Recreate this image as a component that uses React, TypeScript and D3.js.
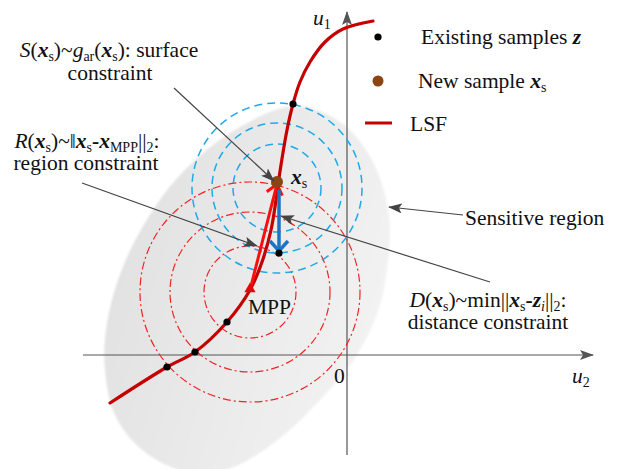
import React from 'react';
import * as d3 from 'd3';

// limit state function, in (u2, u1) units
const lsfU2 = [-4.74, -3.6, -3.04, -2.4, -1.94, -1.7, -1.52, -1.42, -1.36, -1.2, -1.08, -0.94, -0.74, -0.44, -0.08, 0.52];
const lsfU1 = [-0.96, -0.24, 0.06, 0.66, 1.3, 1.86, 2.5, 3.1, 3.54, 4.5, 5.02, 5.46, 5.86, 6.26, 6.52, 6.68];

// existing samples z
const zU2 = [-1.08, -2.4, -3.04, -3.6, -1.36];
const zU1 = [5.02, 0.66, 0.06, -0.24, 2.04];

// outline of the sensitive region
const regionU2 = [-1.04, -0.14, 0.5, 0.84, 0.82, 0.66, 0.2, -0.54, -1.44, -2.44, -3.34, -4.14, -4.64, -4.84, -4.82, -4.58, -4.1, -3.34, -2.24];
const regionU1 = [4.98, 4.66, 3.9, 2.8, 1.9, 1.0, 0, -0.9, -1.74, -2.3, -2.3, -1.86, -1.2, -0.3, 0.5, 1.5, 2.54, 3.6, 4.5];

const xsPoint = [-1.4, 3.46];
const mppPoint = [-1.94, 1.3];
const surfaceCenter = [-1.4, 3.34];
const surfaceRadii = [0.88, 1.3, 1.7];
const regionRadii = [0.92, 1.6, 2.2];
const u2Range = [-5.28, 4.92];
const u1Range = [-2, 6.86];
const tickLabels = ['0'];

const W = 619;
const H = 469;
const FONT = '"Liberation Serif", "Times New Roman", serif';
const FS = 21.5;

type Seg = { t: string; i?: boolean; b?: boolean; sub?: boolean };

const Rich = ({ x, y, anchor = 'start', segs }: { x: number; y: number; anchor?: string; segs: Seg[] }) => {
  let shift = 0;
  return (
    <text x={x} y={y} textAnchor={anchor} fontFamily={FONT} fontSize={FS} fill="#111">
      {segs.map((s, k) => {
        const target = s.sub ? 4 : 0;
        const dy = target - shift;
        shift = target;
        return (
          <tspan key={k} dy={dy} fontStyle={s.i ? 'italic' : 'normal'} fontWeight={s.b ? 'bold' : 'normal'} fontSize={s.sub ? 14 : FS}>
            {s.t}
          </tspan>
        );
      })}
    </text>
  );
};

const chevron = (tip: number[], from: number[], len: number, half: number) => {
  const dx = tip[0] - from[0];
  const dy = tip[1] - from[1];
  const n = Math.hypot(dx, dy);
  const ux = dx / n, uy = dy / n;
  const bx = tip[0] - ux * len, by = tip[1] - uy * len;
  return `M${bx - uy * half},${by + ux * half}L${tip[0]},${tip[1]}L${bx + uy * half},${by - ux * half}`;
};

export default function App() {
  const x = d3.scaleLinear().domain([-5, 5]).range([97, 597]);
  const y = d3.scaleLinear().domain([-2, 7]).range([455, 5]);
  const unit = x(1) - x(0);

  const lsf = d3.line<number>()
    .x((_, i) => x(lsfU2[i]))
    .y((_, i) => y(lsfU1[i]))
    .curve(d3.curveCatmullRom.alpha(0.5));

  const region = d3.line<number>()
    .x((_, i) => x(regionU2[i]))
    .y((_, i) => y(regionU1[i]))
    .curve(d3.curveCatmullRomClosed.alpha(0.5));

  const xs = [x(xsPoint[0]), y(xsPoint[1])];
  const mpp = [x(mppPoint[0]), y(mppPoint[1])];
  const sc = [x(surfaceCenter[0]), y(surfaceCenter[1])];

  // red arrow MPP -> xs
  const redTip = [xs[0], xs[1] + 2];
  // blue arrow xs -> nearest sample
  const blueStart = [x(zU2[4]), xs[1] + 8];
  const blueTip = [x(zU2[4]), y(zU1[4]) - 2];

  const tri = d3.symbol(d3.symbolTriangle, 55)();

  const notes = [
    [174, 88, 274, 181],
    [82, 183, 257, 246],
    [463, 215, 389, 207],
    [490, 282, 281, 216],
  ];

  return (
    <svg width={W} height={H} style={{ position: 'absolute', left: 0, top: 0, background: '#fff' }}>
      <defs>
        <linearGradient id="reg" x1="0" y1="0.3" x2="1" y2="0.7">
          <stop offset="0" stopColor="#e0e0e0" />
          <stop offset="1" stopColor="#f4f4f4" />
        </linearGradient>
        <filter id="soft" x="-10%" y="-10%" width="120%" height="120%">
          <feGaussianBlur stdDeviation="1" />
        </filter>
        <marker id="ah" viewBox="0 0 14 10" refX="13" refY="5" markerWidth="14" markerHeight="10" markerUnits="userSpaceOnUse" orient="auto">
          <path d="M0,0L14,5L0,10L3,5z" fill="#444" />
        </marker>
        <marker id="axh" viewBox="0 0 14 10" refX="13" refY="5" markerWidth="14" markerHeight="10" markerUnits="userSpaceOnUse" orient="auto">
          <path d="M0,0L14,5L0,10L3,5z" fill="#555" />
        </marker>
      </defs>

      {/* sensitive region */}
      <path d={region(regionU2) || ''} fill="url(#reg)" filter="url(#soft)" />

      {/* axes */}
      <line x1={x(u2Range[0])} y1={y(0)} x2={x(u2Range[1])} y2={y(0)} stroke="#555" strokeWidth={1.2} markerEnd="url(#axh)" />
      <line x1={x(0)} y1={y(u1Range[0])} x2={x(0)} y2={y(u1Range[1])} stroke="#555" strokeWidth={1.2} markerEnd="url(#axh)" />
      {tickLabels.map((t) => (
        <text key={t} x={x(0) - 13} y={y(0) + 28} fontFamily={FONT} fontSize={FS} fill="#111">{t}</text>
      ))}
      <Rich x={572} y={383} segs={[{ t: 'u', i: true }, { t: '2', sub: true }]} />
      <Rich x={313} y={25} segs={[{ t: 'u', i: true }, { t: '1', sub: true }]} />

      {/* region constraint circles */}
      {regionRadii.map((r) => (
        <circle key={r} cx={mpp[0]} cy={mpp[1] + 2} r={r * unit} fill="none" stroke="#f02424" strokeWidth={1.2} strokeDasharray="8,3,2,3" />
      ))}
      {/* surface constraint circles */}
      {surfaceRadii.map((r) => (
        <circle key={r} cx={sc[0]} cy={sc[1]} r={r * unit} fill="none" stroke="#1eaae8" strokeWidth={1.5} strokeDasharray="8,5" />
      ))}

      {/* LSF */}
      <path d={lsf(lsfU2) || ''} fill="none" stroke="#c40000" strokeWidth={3.2} strokeLinecap="round" />

      {/* MPP -> xs */}
      <line x1={mpp[0]} y1={mpp[1]} x2={redTip[0]} y2={redTip[1]} stroke="#ff0d0d" strokeWidth={3} />
      <path d={chevron(redTip, mpp, 10, 8)} fill="none" stroke="#ff0d0d" strokeWidth={3} />

      {/* xs -> nearest sample */}
      <line x1={blueStart[0]} y1={blueStart[1]} x2={blueTip[0]} y2={blueTip[1]} stroke="#1e74c4" strokeWidth={3.5} />
      <path d={chevron(blueTip, blueStart, 10, 9)} fill="none" stroke="#1e74c4" strokeWidth={3.5} />

      {/* existing samples */}
      {zU2.map((u, i) => (
        <circle key={i} cx={x(u)} cy={y(zU1[i])} r={3.6} fill="#000" />
      ))}

      {/* MPP marker */}
      <path d={tri || ''} transform={`translate(${mpp[0]},${mpp[1] - 1})`} fill="#dd0b0b" />
      <text x={248} y={314} fontFamily={FONT} fontSize={FS} fill="#111">MPP</text>

      {/* new sample */}
      <circle cx={xs[0]} cy={xs[1]} r={6} fill="#8b4513" />
      <Rich x={291} y={184} segs={[{ t: 'x', i: true, b: true }, { t: 's', sub: true }]} />

      {/* annotation arrows */}
      {notes.map((n, i) => (
        <line key={i} x1={n[0]} y1={n[1]} x2={n[2]} y2={n[3]} stroke="#444" strokeWidth={1.2} markerEnd="url(#ah)" />
      ))}

      <Rich x={109} y={57} anchor="middle" segs={[
        { t: 'S', i: true }, { t: '(' }, { t: 'x', i: true, b: true }, { t: 's', sub: true }, { t: ')~' },
        { t: 'g', i: true }, { t: 'ar', sub: true }, { t: '(' }, { t: 'x', i: true, b: true }, { t: 's', sub: true }, { t: '): surface' },
      ]} />
      <Rich x={110} y={80} anchor="middle" segs={[{ t: 'constraint' }]} />

      <Rich x={87} y={148} anchor="middle" segs={[
        { t: 'R', i: true }, { t: '(' }, { t: 'x', i: true, b: true }, { t: 's', sub: true }, { t: ')~‖' },
        { t: 'x', i: true, b: true }, { t: 's', sub: true }, { t: '-', b: true }, { t: 'x', i: true, b: true }, { t: 'MPP', sub: true },
        { t: '||' }, { t: '2', sub: true }, { t: ':' },
      ]} />
      <Rich x={86} y={170} anchor="middle" segs={[{ t: 'region constraint' }]} />

      <Rich x={488} y={307} anchor="middle" segs={[
        { t: 'D', i: true }, { t: '(' }, { t: 'x', i: true, b: true }, { t: 's', sub: true }, { t: ')~min||' },
        { t: 'x', i: true, b: true }, { t: 's', sub: true }, { t: '-', b: true }, { t: 'z', i: true, b: true }, { t: 'i', i: true, sub: true },
        { t: '||' }, { t: '2', sub: true }, { t: ':' },
      ]} />
      <Rich x={488} y={329} anchor="middle" segs={[{ t: 'distance constraint' }]} />

      <Rich x={465} y={225} segs={[{ t: 'Sensitive region' }]} />

      {/* legend */}
      <circle cx={378} cy={37} r={3.6} fill="#000" />
      <Rich x={421} y={44} segs={[{ t: 'Existing samples ' }, { t: 'z', i: true, b: true }]} />
      <circle cx={378} cy={81} r={5.5} fill="#8b4513" />
      <Rich x={418} y={88} segs={[{ t: 'New sample ' }, { t: 'x', i: true, b: true }, { t: 's', sub: true }]} />
      <line x1={365} y1={123} x2={392} y2={123} stroke="#c40000" strokeWidth={3} />
      <Rich x={410} y={131} segs={[{ t: 'LSF' }]} />
    </svg>
  );
}
